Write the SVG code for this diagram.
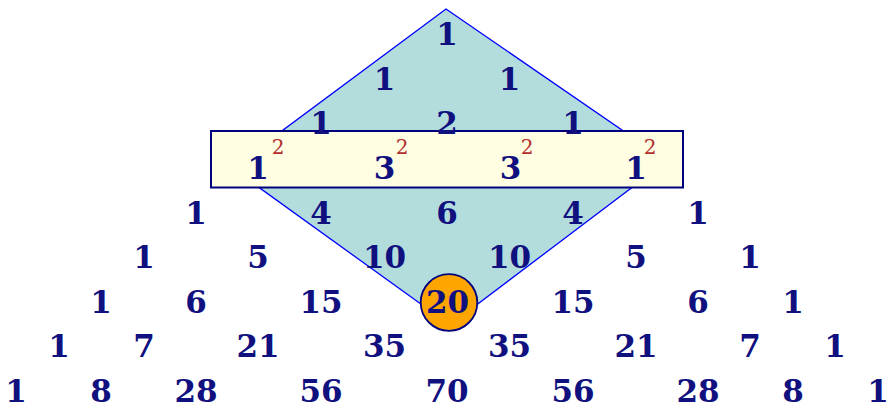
<svg xmlns="http://www.w3.org/2000/svg" width="887" height="405" viewBox="0 0 887 405">
<style>
.n{font-family:"DejaVu Serif","Liberation Serif",serif;font-weight:bold;font-size:31px;fill:#10107f;text-anchor:middle}
.s{font-family:"DejaVu Serif","Liberation Serif",serif;font-size:20px;fill:#b22f2f;text-anchor:middle}
</style>
<rect width="887" height="405" fill="#ffffff"/>
<g id="diamond"><polygon points="446,9 667,161 450,325 232,168" fill="#b3dcdc" stroke="#0000ff" stroke-width="1.3"/></g>
<g id="band"><rect x="211" y="131" width="472" height="56.5" fill="#fffde2" stroke="#00007f" stroke-width="2"/></g>
<g id="highlight"><circle cx="449" cy="302.5" r="28.3" fill="#ffa500" stroke="#00007f" stroke-width="1.8"/></g>
<g id="row0"><text class="n" x="447" y="45">1</text></g>
<g id="row1"><text class="n" x="384.5" y="89.6">1</text><text class="n" x="509.5" y="89.6">1</text></g>
<g id="row2"><text class="n" x="321" y="134.3">1</text><text class="n" x="447" y="134.3">2</text><text class="n" x="573" y="134.3">1</text></g>
<g id="row3">
<text class="n" x="258" y="178.9">1</text><text class="s" x="278" y="154">2</text>
<text class="n" x="384.5" y="178.9">3</text><text class="s" x="402" y="154">2</text>
<text class="n" x="510.5" y="178.9">3</text><text class="s" x="527" y="154">2</text>
<text class="n" x="636" y="178.9">1</text><text class="s" x="650" y="154">2</text>
</g>
<g id="row4"><text class="n" x="196" y="223.5">1</text><text class="n" x="321" y="223.5">4</text><text class="n" x="447" y="223.5">6</text><text class="n" x="573" y="223.5">4</text><text class="n" x="698" y="223.5">1</text></g>
<g id="row5"><text class="n" x="144" y="268.1">1</text><text class="n" x="258" y="268.1">5</text><text class="n" x="384.5" y="268.1">10</text><text class="n" x="509.5" y="268.1">10</text><text class="n" x="636" y="268.1">5</text><text class="n" x="750" y="268.1">1</text></g>
<g id="row6"><text class="n" x="101" y="312.8">1</text><text class="n" x="196" y="312.8">6</text><text class="n" x="321" y="312.8">15</text><text class="n" x="447.5" y="312.8">20</text><text class="n" x="573" y="312.8">15</text><text class="n" x="698" y="312.8">6</text><text class="n" x="793" y="312.8">1</text></g>
<g id="row7"><text class="n" x="59" y="357.4">1</text><text class="n" x="144" y="357.4">7</text><text class="n" x="258" y="357.4">21</text><text class="n" x="384.5" y="357.4">35</text><text class="n" x="509.5" y="357.4">35</text><text class="n" x="636" y="357.4">21</text><text class="n" x="750" y="357.4">7</text><text class="n" x="835" y="357.4">1</text></g>
<g id="row8"><text class="n" x="16" y="401.5">1</text><text class="n" x="101" y="401.5">8</text><text class="n" x="196" y="401.5">28</text><text class="n" x="321" y="401.5">56</text><text class="n" x="447" y="401.5">70</text><text class="n" x="573" y="401.5">56</text><text class="n" x="698" y="401.5">28</text><text class="n" x="793" y="401.5">8</text><text class="n" x="878" y="401.5">1</text></g>
</svg>
